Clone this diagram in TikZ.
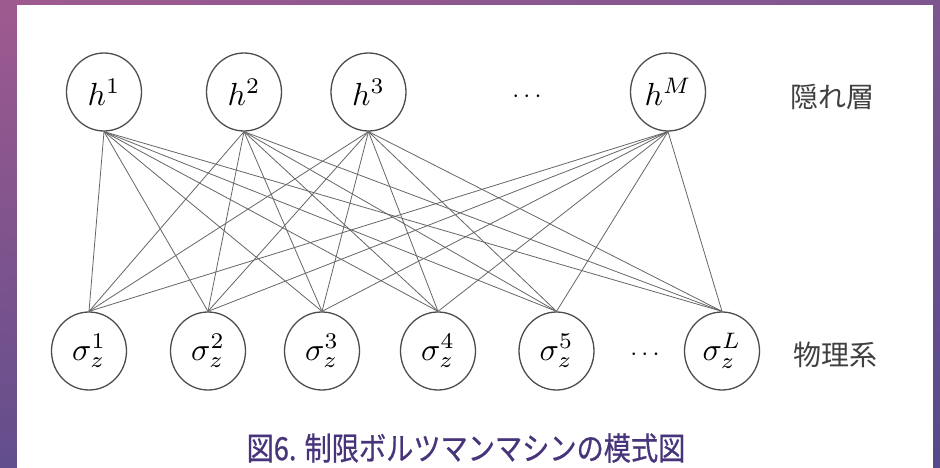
\documentclass[tikz,border=0pt]{standalone}
\usepackage{fontspec}
\usetikzlibrary{shapes.geometric,shadings}
\newfontfamily\jpfont{Noto Sans CJK JP}
\newfontfamily\capfont[FakeStretch=0.85,FakeBold=0.6]{Noto Sans CJK JP}
\definecolor{bgA}{RGB}{158,90,143}
\definecolor{bgB}{RGB}{125,86,144}
\definecolor{bgC}{RGB}{98,78,140}
\definecolor{bgD}{RGB}{86,74,136}
\definecolor{capcol}{RGB}{72,52,122}
\newcommand{\rbmmath}[1]{\scalebox{3.2}{$#1$}}
\newcommand{\rbmdots}{\scalebox{2.5}{$\cdots$}}
\begin{document}
\begin{tikzpicture}[x=1pt,y=-1pt,
  unit/.style={ellipse, draw=black!70, line width=1.3pt, minimum width=75pt, minimum height=78pt, inner sep=0pt},
  link/.style={draw=black!60, line width=0.8pt},
  layerlabel/.style={font=\jpfont\fontsize{28}{30}\selectfont, text=black!75},
  dotsnode/.style={inner sep=0pt}]
\useasboundingbox (0,0) rectangle (940,468);
\shade[upper left=bgA, upper right=bgB, lower left=bgC, lower right=bgD] (0,0) rectangle (940,468);
\fill[white] (17,5) rectangle (933,468);

\node[unit] (h1) at (104,92) {\rbmmath{h^1}};
\node[unit] (h2) at (244,92) {\rbmmath{h^2}};
\node[unit] (h3) at (368.5,92) {\rbmmath{h^3}};
\node[dotsnode] (hdots) at (527,97) {\rbmdots};
\node[unit] (hM) at (668,92) {\rbmmath{h^M}};
\node[layerlabel] (hid) at (832,97) {隠れ層};

\node[unit] (s1) at (89,351) {\rbmmath{\sigma_z^1}};
\node[unit] (s2) at (208,351) {\rbmmath{\sigma_z^2}};
\node[unit] (s3) at (322,351) {\rbmmath{\sigma_z^3}};
\node[unit] (s4) at (438,351) {\rbmmath{\sigma_z^4}};
\node[unit] (s5) at (556.5,351) {\rbmmath{\sigma_z^5}};
\node[dotsnode] (sdots) at (645,355) {\rbmdots};
\node[unit] (sL) at (722,351) {\rbmmath{\sigma_z^L}};
\node[layerlabel] (phys) at (835,355) {物理系};

\foreach \t in {h1,h2,h3,hM}
  \foreach \b in {s1,s2,s3,s4,s5,sL}
    \draw[link] (\t.south) -- (\b.north);

\node[font=\capfont\fontsize{32}{36}\selectfont, text=capcol] (cap) at (466,448) {図6. 制限ボルツマンマシンの模式図};
\end{tikzpicture}
\end{document}
